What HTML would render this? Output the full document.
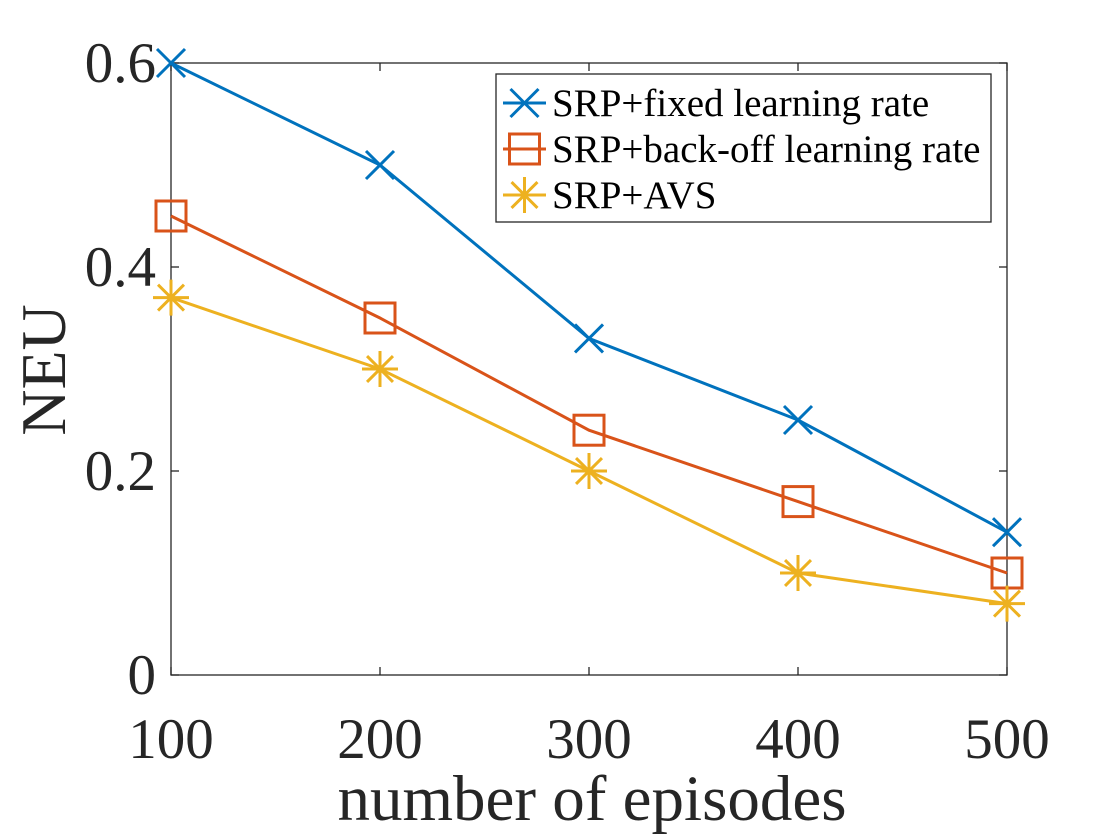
<!DOCTYPE html>
<html><head><meta charset="utf-8"><style>body{margin:0;background:#fff}svg{display:block}text{font-family:"Liberation Serif",serif;fill:#262626}</style></head>
<body>
<svg id="chart" width="1114" height="835" viewBox="0 0 1114 835" xmlns="http://www.w3.org/2000/svg"></svg>
<script>
const categories=[100,200,300,400,500];
const fixedValues=[0.6,0.5,0.33,0.25,0.14];
const backoffValues=[0.45,0.35,0.24,0.17,0.10];
const avsValues=[0.37,0.30,0.20,0.10,0.07];
const yTicks=[0,0.2,0.4,0.6];
const yTickLabels=["0","0.2","0.4","0.6"];
const seriesNames=["SRP+fixed learning rate","SRP+back-off learning rate","SRP+AVS"];

const NS="http://www.w3.org/2000/svg";
const svg=document.getElementById('chart');
const L=171,R=1007,T=63,B=675;
const xS=v=>L+(v-100)/400*(R-L);
const yS=v=>B-v/0.6*(B-T);
function el(tag,attrs,parent){const e=document.createElementNS(NS,tag);for(const k in attrs)e.setAttribute(k,attrs[k]);(parent||svg).appendChild(e);return e;}

const axes=el('g',{});


const box=el('rect',{x:L,y:T,width:R-L,height:B-T,fill:'none',stroke:'#262626','stroke-width':1.3},axes);


categories.forEach(c=>{
  const x=xS(c);
  el('line',{x1:x,x2:x,y1:B,y2:B-8,stroke:'#262626','stroke-width':1.3},axes);
  el('line',{x1:x,x2:x,y1:T,y2:T+8,stroke:'#262626','stroke-width':1.3},axes);
  const t=el('text',{x:x,y:758,'text-anchor':'middle','font-size':57},axes);
  t.textContent=c;
  
  
});
yTicks.forEach((v,i)=>{
  const y=yS(v);
  el('line',{x1:L,x2:L+8,y1:y,y2:y,stroke:'#262626','stroke-width':1.3},axes);
  el('line',{x1:R,x2:R-8,y1:y,y2:y,stroke:'#262626','stroke-width':1.3},axes);
  const t=el('text',{x:156,y:y+19,'text-anchor':'end','font-size':57},axes);
  t.textContent=yTickLabels[i];
  
  
});
const xt=el('text',{x:592,y:820,'text-anchor':'middle','font-size':65});
xt.textContent='number of episodes';


const yt=el('text',{x:0,y:0,'text-anchor':'middle','font-size':64,transform:'translate(65,370) rotate(-90)'});
yt.textContent='NEU';



const colors=['#0072BD','#D95319','#EDB120'];
function marker(kind,x,y,c,g){
  if(kind===0){
    const s=14;
    el('path',{d:`M${x-s} ${y-s}L${x+s} ${y+s}M${x-s} ${y+s}L${x+s} ${y-s}`,stroke:c,'stroke-width':3,fill:'none'},g);
  }else if(kind===1){
    const s=15;
    el('rect',{x:x-s,y:y-s,width:2*s,height:2*s,stroke:c,'stroke-width':3,fill:'none'},g);
  }else{
    const s=18,d=s*0.72;
    el('path',{d:`M${x-s} ${y}L${x+s} ${y}M${x} ${y-s}L${x} ${y+s}M${x-d} ${y-d}L${x+d} ${y+d}M${x-d} ${y+d}L${x+d} ${y-d}`,stroke:c,'stroke-width':3,fill:'none'},g);
  }
}
[fixedValues,backoffValues,avsValues].forEach((vals,k)=>{
  const g=el('g',{});
  
  
  const pts=vals.map((v,i)=>xS(categories[i])+','+yS(v)).join(' ');
  el('polyline',{points:pts,fill:'none',stroke:colors[k],'stroke-width':3},g);
  vals.forEach((v,i)=>marker(k,xS(categories[i]),yS(v),colors[k],g));
});

const lg=el('g',{});


el('rect',{x:496,y:74,width:495,height:148,fill:'#fff',stroke:'#262626','stroke-width':1.3},lg);
const ly=[103,149,195];
seriesNames.forEach((n,k)=>{
  const e=el('g',{},lg);
  
  
  el('line',{x1:503,x2:546,y1:ly[k],y2:ly[k],stroke:colors[k],'stroke-width':3},e);
  marker(k,524.5,ly[k],colors[k],e);
  const t=el('text',{x:552,y:ly[k]+13,'font-size':39,style:'fill:#000'},e);
  t.textContent=n;
});
</script>
</body></html>
